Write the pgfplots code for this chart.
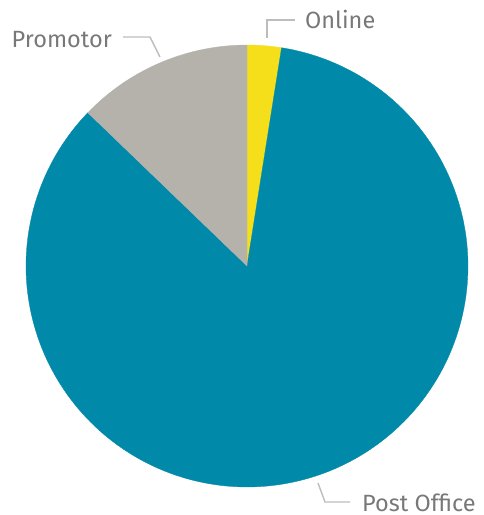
\documentclass[border=0pt]{standalone}
\usepackage{pgfplots}
\usepackage{pgfplotstable}
\pgfplotsset{compat=1.18}
\usepackage{fontspec}
\setmainfont{Fira Sans}
\definecolor{cOnline}{HTML}{F5DE1A}
\definecolor{cPost}{HTML}{0089A8}
\definecolor{cProm}{HTML}{B5B2AB}
\definecolor{cText}{HTML}{787878}
\definecolor{cLead}{HTML}{BDBDBD}
\pgfplotstableread{
label value
Online 2.5
PostOffice 84.7
Promotor 12.8
}\piedata
\pgfplotstablegetelem{0}{value}\of\piedata \let\vOnline\pgfplotsretval
\pgfplotstablegetelem{1}{value}\of\piedata \let\vPost\pgfplotsretval
\pgfplotstablegetelem{2}{value}\of\piedata \let\vProm\pgfplotsretval
\pgfmathsetmacro{\aA}{90-3.6*\vOnline}
\pgfmathsetmacro{\aB}{\aA-3.6*\vPost}
\pgfmathsetmacro{\aC}{\aB-3.6*\vProm}
\begin{document}
\begin{tikzpicture}
\begin{axis}[
  x=1pt, y=1pt,
  xmin=-247, xmax=237, ymin=-249, ymax=266,
  hide axis, clip=false,
  scale only axis,
]
\path (axis cs:-247,-249) rectangle (axis cs:237,266);
\addplot[fill=cOnline, draw=cOnline, line width=0.3pt, domain=\aA:90, samples=20]
  ({221*cos(x)},{221*sin(x)}) -- (axis cs:0,0) -- cycle;
\addplot[fill=cPost, draw=cPost, line width=0.3pt, domain=\aB:\aA, samples=200]
  ({221*cos(x)},{221*sin(x)}) -- (axis cs:0,0) -- cycle;
\addplot[fill=cProm, draw=cProm, line width=0.3pt, domain=\aC:\aB, samples=40]
  ({221*cos(x)},{221*sin(x)}) -- (axis cs:0,0) -- cycle;
% leader lines
\draw[cLead, line width=1.4pt] (axis cs:20,228) -- (axis cs:20,246) -- (axis cs:48,246);
\draw[cLead, line width=1.4pt] (axis cs:-124,229) -- (axis cs:-97,229) -- (axis cs:-87,209);
\draw[cLead, line width=1.4pt] (axis cs:71,-217) -- (axis cs:78,-236) -- (axis cs:103,-236);
% labels
\node[anchor=west, text=cText, font=\fontsize{23.5}{26}\selectfont, inner sep=0pt] at (axis cs:58,247) {Online};
\node[anchor=east, text=cText, font=\fontsize{23.5}{26}\selectfont, inner sep=0pt] at (axis cs:-135,226) {Promotor};
\node[anchor=west, text=cText, font=\fontsize{23.5}{26}\selectfont, inner sep=0pt] at (axis cs:115,-237) {Post Office};
\end{axis}
\end{tikzpicture}
\end{document}
